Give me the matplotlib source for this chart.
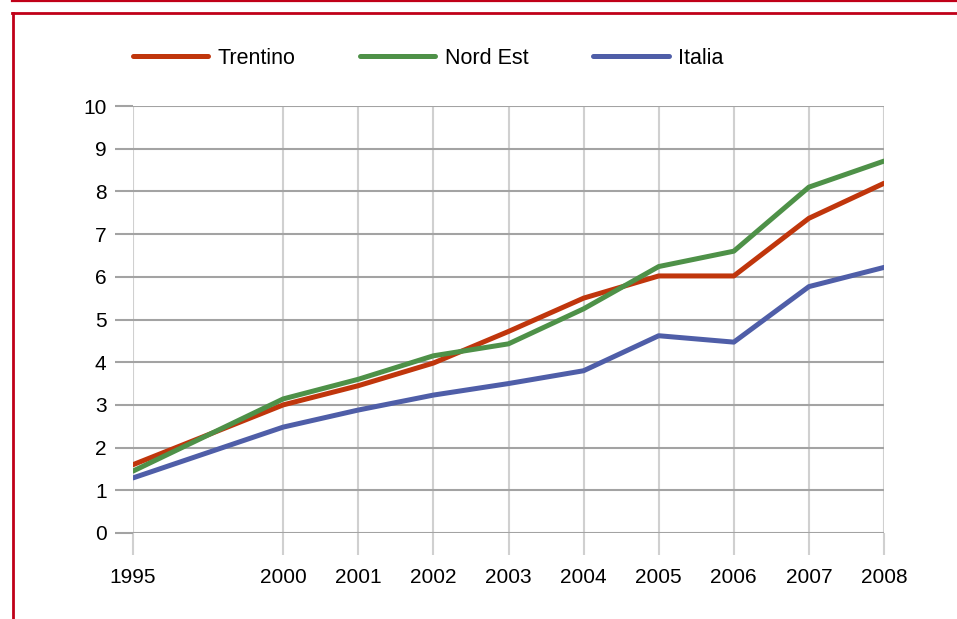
import numpy as np
import matplotlib.pyplot as plt
from matplotlib.lines import Line2D

plt.rcParams['font.family'] = ['Liberation Sans', 'DejaVu Sans']

# anni e serie
anni = ['1995', '2000', '2001', '2002', '2003', '2004', '2005', '2006', '2007', '2008']
trentino = [1.6, 3.0, 3.45, 3.98, 4.72, 5.5, 6.02, 6.02, 7.37, 8.19]
nord_est = [1.45, 3.14, 3.6, 4.15, 4.43, 5.25, 6.24, 6.6, 8.1, 8.71]
italia = [1.29, 2.48, 2.88, 3.23, 3.5, 3.8, 4.62, 4.47, 5.77, 6.22]

nomi = ['Trentino', 'Nord Est', 'Italia']
colori = ['#C0360C', '#4E9148', '#4F5EA8']

# 1995 staccato dal resto: lascia uno slot vuoto tra 1995 e 2000
xpos = np.r_[0, np.arange(2, len(anni) + 1)]

fig = plt.figure(figsize=(9.57, 6.19), dpi=100)
ax = fig.add_axes([133 / 957, 1 - 533 / 619, (884 - 133) / 957, (533 - 106) / 619])

for serie, col in zip([trentino, nord_est, italia], colori):
    ax.plot(xpos, serie, color=col, lw=3.6, solid_capstyle='round',
            solid_joinstyle='round', zorder=3)

ax.set_xlim(xpos[0], xpos[-1])
ax.set_ylim(0, 10)
ax.set_yticks(range(0, 11))
ax.set_xticks(xpos)
ax.set_xticklabels(anni)

for s in ax.spines.values():
    s.set_visible(False)

ax.grid(axis='y', color='#A3A3A3', lw=1.5, zorder=1)
ax.grid(axis='x', color='#D0D0D0', lw=1.5, zorder=1)
ax.tick_params(axis='y', length=13, width=1.5, color='#A3A3A3', pad=6,
               labelsize=15)
ax.tick_params(axis='x', length=16, width=1.5, color='#D0D0D0', pad=9,
               labelsize=15)

# legenda in alto
handles = [Line2D([], [], color=c, lw=3.6, solid_capstyle='round') for c in colori]
fig.legend(handles, nomi, loc='center left', bbox_to_anchor=(124 / 957, 1 - 58 / 619),
           ncol=3, frameon=False, fontsize=15.5, handlelength=3.5,
           handletextpad=0.45, columnspacing=3.0, borderaxespad=0)

# cornice rossa
rosso = '#C00018'
fig.add_artist(Line2D([12 / 957, 1], [1 - 0.8 / 619] * 2, color=rosso, lw=1.6))
fig.add_artist(Line2D([12 / 957, 1], [1 - 13 / 619] * 2, color=rosso, lw=2))
fig.add_artist(Line2D([13 / 957] * 2, [0, 1 - 13 / 619], color=rosso, lw=2))

fig.savefig('out.png', dpi=100)
